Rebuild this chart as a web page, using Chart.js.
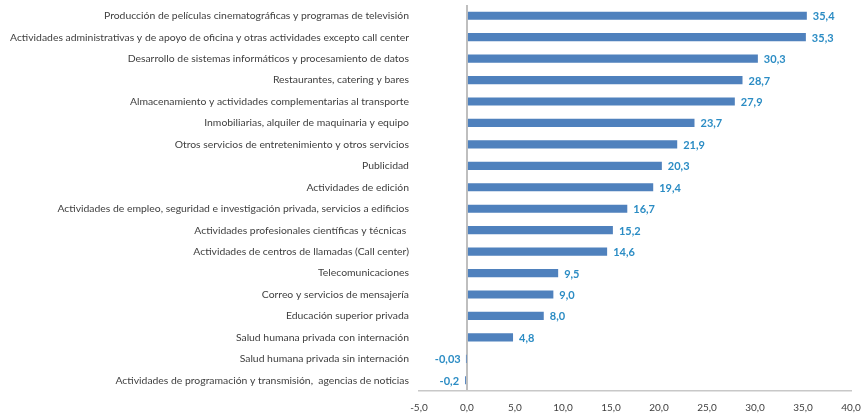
<!DOCTYPE html>
<html>
<head>
<meta charset="utf-8">
<script src="https://cdn.jsdelivr.net/npm/chart.js@4"></script>
<style>
  html, body { margin:0; padding:0; background:#fff; }
  #wrap { width:863px; height:416px; }
</style>
</head>
<body>
<div id="wrap"><canvas id="rubrosChart" width="863" height="416"></canvas></div>
<script>
const categories = [
  'Producción de películas cinematográficas y programas de televisión',
  'Actividades administrativas y de apoyo de oficina y otras actividades excepto call center',
  'Desarrollo de sistemas informáticos y procesamiento de datos',
  'Restaurantes, catering y bares',
  'Almacenamiento y actividades complementarias al transporte',
  'Inmobiliarias, alquiler de maquinaria y equipo',
  'Otros servicios de entretenimiento y otros servicios',
  'Publicidad',
  'Actividades de edición',
  'Actividades de empleo, seguridad e investigación privada, servicios a edificios',
  'Actividades profesionales científicas y técnicas ',
  'Actividades de centros de llamadas (Call center)',
  'Telecomunicaciones',
  'Correo y servicios de mensajería',
  'Educación superior privada',
  'Salud humana privada con internación',
  'Salud humana privada sin internación',
  'Actividades de programación y transmisión,  agencias de noticias'
];
const values = [35.4, 35.3, 30.3, 28.7, 27.9, 23.7, 21.9, 20.3, 19.4, 16.7, 15.2, 14.6, 9.5, 9.0, 8.0, 4.8, -0.03, -0.2];
const xMin = -5, xMax = 40, xStep = 5;

const fmt = v => v.toFixed(Math.abs(v) < 0.1 ? 2 : 1).replace('.', ',');

// value labels at the end of each bar
const valueLabels = {
  id: 'valueLabels',
  afterDatasetsDraw(chart) {
    const ctx = chart.ctx;
    const meta = chart.getDatasetMeta(0);
    ctx.save();
    ctx.font = 'bold 11px Lato';
    ctx.fillStyle = '#2b8cc4';
    ctx.textBaseline = 'middle';
    meta.data.forEach((bar, i) => {
      const v = values[i];
      if (v >= 0) {
        ctx.textAlign = 'left';
        ctx.fillText(fmt(v), bar.x + 6, bar.y + 1);
      } else {
        ctx.textAlign = 'right';
        ctx.fillText(fmt(v), bar.x - 6, bar.y + 1);
      }
    });
    ctx.restore();
  }
};

document.addEventListener('DOMContentLoaded', () => {
  const ctx = document.getElementById('rubrosChart').getContext('2d');
  window.rubrosChart = new Chart(ctx, {
    type: 'bar',
    data: {
      labels: categories,
      datasets: [{
        data: values,
        backgroundColor: '#4f81bd',
        borderWidth: 0,
        categoryPercentage: 1,
        barPercentage: 0.38
      }]
    },
    options: {
      indexAxis: 'y',
      responsive: false,
      animation: false,
      layout: { padding: { top: 5, right: 0, left: 0, bottom: 0 } },
      plugins: { legend: { display: false }, tooltip: { enabled: false } },
      scales: {
        x: {
          min: xMin, max: xMax,
          afterFit(scale) { scale.paddingRight = 12; scale.height = 25; },
          ticks: {
            stepSize: xStep,
            color: '#404040',
            font: { family: 'Lato', size: 10 },
            padding: 11,
            callback: v => v.toFixed(1).replace('.', ',')
          },
          grid: {
            drawTicks: false,
            color: c => c.tick && c.tick.value === 0 ? '#bfbfbf' : 'rgba(0,0,0,0)',
            lineWidth: 2
          },
          border: { display: true, color: '#c8c8c8', width: 1.5 }
        },
        y: {
          afterFit(scale) { scale.paddingTop = 0; scale.paddingBottom = 0; },
          ticks: {
            color: '#404040',
            font: { family: 'Lato', size: 10.4 },
            padding: 10,
            autoSkip: false
          },
          grid: { display: false, drawTicks: false },
          border: { display: false }
        }
      }
    },
    plugins: [valueLabels]
  });
});
</script>
</body>
</html>
